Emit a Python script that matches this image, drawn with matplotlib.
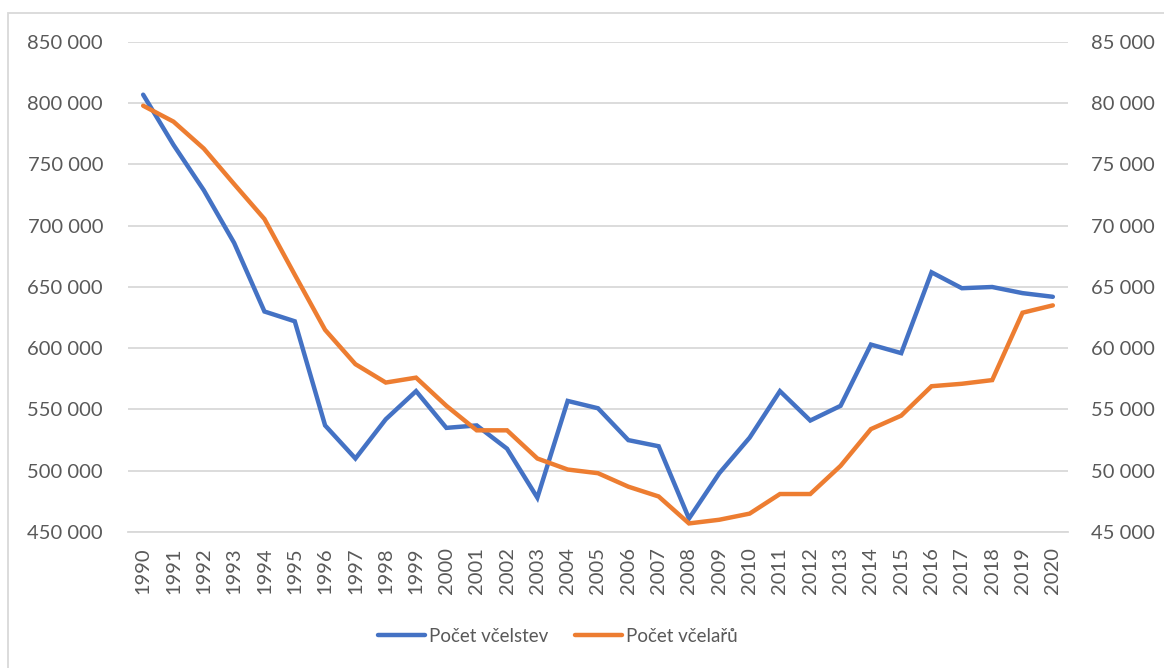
import numpy as np
import matplotlib.pyplot as plt
from matplotlib.patches import Rectangle
from matplotlib.ticker import FuncFormatter

# Values
years = list(range(1990, 2021))
vcelstev = [807000, 766000, 729000, 686000, 630000, 622000, 537000, 510000,
            542000, 565000, 535000, 537000, 518000, 478000, 557000, 551000,
            525000, 520000, 461000, 498000, 527000, 565000, 541000, 553000,
            603000, 596000, 662000, 649000, 650000, 645000, 642000]
vcelaru = [79800, 78500, 76300, 73400, 70550, 66000, 61500, 58700,
           57200, 57600, 55300, 53300, 53300, 51000, 50100, 49800,
           48700, 47900, 45700, 46000, 46500, 48100, 48100, 50400,
           53400, 54500, 56900, 57100, 57400, 62900, 63500]
left_ticks = [450000, 500000, 550000, 600000, 650000, 700000, 750000, 800000, 850000]
right_ticks = [45000, 50000, 55000, 60000, 65000, 70000, 75000, 80000, 85000]

BLUE = "#4472C4"
ORANGE = "#ED7D31"
GRID = "#D9D9D9"
TXT = "#595959"
FONT = "Lato"
FS = 14.5
FS_LEG = 13.5

plt.rcParams["font.family"] = [FONT, "DejaVu Sans"]

fig = plt.figure(figsize=(11.64, 6.68), dpi=100)
fig.patches.append(Rectangle((8 / 1164, -0.1), 1.2, 1.1 - 13 / 668,
                             transform=fig.transFigure, fill=False,
                             edgecolor=GRID, linewidth=1.3))

ax = fig.add_axes([128 / 1164, 1 - 532 / 668, 940 / 1164, 490 / 668])
ax2 = ax.twinx()

x = np.arange(len(years))
fmt = FuncFormatter(lambda v, p: f"{int(v):,}".replace(",", " "))

l1, = ax.plot(x, vcelstev, color=BLUE, lw=3.2, solid_capstyle="round",
              solid_joinstyle="miter", label="Počet včelstev", zorder=3)
l2, = ax2.plot(x, vcelaru, color=ORANGE, lw=3.2, solid_capstyle="round",
               solid_joinstyle="miter", label="Počet včelařů", zorder=3)

ax.set_xlim(-0.5, len(years) - 0.5)
ax.set_ylim(450000, 850000)
ax2.set_ylim(45000, 85000)
ax.set_yticks(left_ticks)
ax2.set_yticks(right_ticks)
ax.yaxis.set_major_formatter(fmt)
ax2.yaxis.set_major_formatter(fmt)
ax.set_xticks(x)
ax.set_xticklabels([str(y) for y in years], rotation=90, va="top")

ax.grid(axis="y", color=GRID, lw=1.3)
ax.set_axisbelow(True)
for a in (ax, ax2):
    for s in a.spines.values():
        s.set_visible(False)
ax.spines["bottom"].set_visible(True)
ax.spines["bottom"].set_color(GRID)
ax.spines["bottom"].set_linewidth(1.3)

ax.tick_params(axis="y", length=0, pad=18, labelsize=FS, labelcolor=TXT)
ax2.tick_params(axis="y", length=0, pad=16.5, labelsize=FS, labelcolor=TXT)
ax.tick_params(axis="x", length=0, pad=11, labelsize=FS, labelcolor=TXT)

leg = fig.legend(handles=[l1, l2], loc="center", bbox_to_anchor=(0.479, 1 - 636 / 668),
                 ncol=2, frameon=False, fontsize=FS_LEG, handlelength=2.5,
                 handletextpad=0.2, columnspacing=1.45)
for t in leg.get_texts():
    t.set_color(TXT)

fig.savefig("out.png", dpi=100)
